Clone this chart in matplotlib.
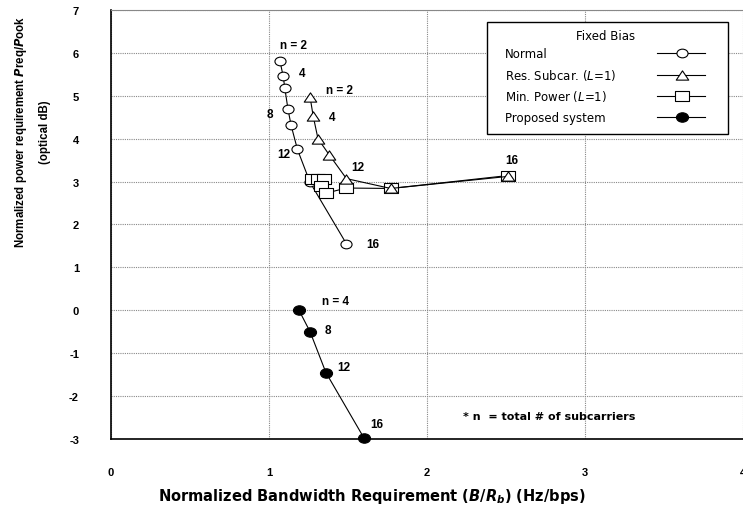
import numpy as np
import matplotlib
matplotlib.use("Agg")
import matplotlib.pyplot as plt
from matplotlib.path import Path
from matplotlib.lines import Line2D
from matplotlib.patches import Rectangle

plt.rcParams['axes.unicode_minus'] = False
plt.rcParams['mathtext.fontset'] = 'custom'
plt.rcParams['mathtext.it'] = 'DejaVu Sans:italic:bold'
plt.rcParams['mathtext.rm'] = 'DejaVu Sans:bold'
plt.rcParams['mathtext.sf'] = 'DejaVu Sans:italic'

# datos
normal_x = [1.07, 1.09, 1.10, 1.12, 1.14, 1.18, 1.26, 1.49]
normal_y = [5.80, 5.45, 5.18, 4.69, 4.31, 3.75, 2.98, 1.55]
normal_lbl = {0: "n = 2", 1: "4", 3: "8", 5: "12", 7: "16"}

resub_x = [1.26, 1.28, 1.31, 1.38, 1.49, 1.77, 2.51]
resub_y = [4.97, 4.52, 4.00, 3.63, 3.07, 2.84, 3.12]
resub_lbl = {0: "n = 2", 1: "4", 4: "12", 6: "16"}

minpow_x = [1.27, 1.31, 1.35, 1.33, 1.36, 1.49, 1.77, 2.51]
minpow_y = [3.07, 3.07, 3.07, 2.90, 2.73, 2.85, 2.84, 3.14]

prop_x = [1.19, 1.26, 1.36, 1.60]
prop_y = [0.0, -0.5, -1.45, -2.97]
prop_lbl = {0: "n = 4", 1: "8", 2: "12", 3: "16"}

x_ticks = [0, 1, 2, 3, 4]
y_ticks = [-3, -2, -1, 0, 1, 2, 3, 4, 5, 6, 7]

# desplazamientos de las etiquetas (puntos)
normal_off = {0: (9.4, 12.2), 1: (13.7, 2.2), 3: (-13, -3.6), 5: (-10, -3.6), 7: (18.7, 0)}
resub_off = {0: (20.9, 5), 1: (13.7, -0.7), 4: (7.9, 8.6), 6: (2.9, 11.5)}
prop_off = {0: (26.6, 6.5), 1: (13, 1.4), 2: (13, 4.3), 3: (9.4, 10)}


def marcador(verts):
    verts = np.asarray(verts, dtype=float)
    codes = [Path.MOVETO] + [Path.LINETO] * (len(verts) - 2) + [Path.CLOSEPOLY]
    return Path(verts, codes)


circ = Path.unit_circle()
elipse = Path(circ.vertices * [1.0, 0.78], circ.codes)
triangulo = marcador([(0, 0.37), (-0.5, -0.37), (0.5, -0.37), (0, 0.37)])
cuadrado = marcador([(-0.5, -0.42), (0.5, -0.42), (0.5, 0.42), (-0.5, 0.42), (-0.5, -0.42)])

estilos = [
    dict(marker=elipse, markersize=8, markerfacecolor='white'),
    dict(marker=triangulo, markersize=9, markerfacecolor='white'),
    dict(marker=cuadrado, markersize=9.4, markerfacecolor='white'),
    dict(marker=elipse, markersize=8.7, markerfacecolor='black'),
]
comun = dict(color='black', lw=0.8, markeredgecolor='black', markeredgewidth=0.8)


def etiquetar(ax, xs, ys, lbls, offs):
    for i, t in lbls.items():
        ax.annotate(t, (xs[i], ys[i]), xytext=offs[i], textcoords='offset points',
                    ha='center', va='center', fontsize=8.5, fontweight='bold',
                    family='Liberation Sans')


def main():
    fig = plt.figure(figsize=(7.43, 5.10), dpi=100)
    ax = fig.add_axes([111 / 743, 70 / 510, 632 / 743, 429 / 510])

    ax.plot(normal_x, normal_y, clip_on=False, zorder=3, **comun, **estilos[0])
    ax.plot(minpow_x, minpow_y, clip_on=False, zorder=3, **comun, **estilos[2])
    ax.plot(resub_x, resub_y, clip_on=False, zorder=4, **comun, **estilos[1])
    ax.plot(prop_x, prop_y, clip_on=False, zorder=3, **comun, **estilos[3])

    etiquetar(ax, normal_x, normal_y, normal_lbl, normal_off)
    etiquetar(ax, resub_x, resub_y, resub_lbl, resub_off)
    etiquetar(ax, prop_x, prop_y, prop_lbl, prop_off)

    ax.set_xlim(0, 4)
    ax.set_ylim(-3, 7)
    ax.set_xticks(x_ticks)
    ax.set_yticks(y_ticks)
    ax.set_xticklabels([str(v) for v in x_ticks])
    ax.set_yticklabels([str(v) for v in y_ticks])
    ax.tick_params(length=0, labelsize=8)
    ax.tick_params(axis='x', pad=20)
    ax.tick_params(axis='y', pad=23)
    for lab in ax.get_xticklabels() + ax.get_yticklabels():
        lab.set_fontweight('bold')
        lab.set_family('Liberation Sans')
    ax.grid(True, color='#888888', lw=0.8, linestyle=(0, (1, 1)))
    ax.spines['right'].set_visible(False)
    ax.spines['top'].set_color('#888888')
    ax.spines['left'].set_linewidth(1.2)
    ax.spines['bottom'].set_linewidth(1.2)

    fig.text(0.5, 1 - 497 / 510, r"Normalized Bandwidth Requirement ($\mathit{B}$/$\mathit{R_b}$) (Hz/bps)",
             ha='center', va='center', fontsize=10.5, fontweight='bold', family='DejaVu Sans')
    fig.text(32 / 743, 1 - 132 / 510, "Normalized power requirement $\\mathit{P}$req/$\\mathit{P}$ook\n(optical dB)",
             ha='center', va='center', rotation=90, fontsize=8.3, fontweight='bold',
             family='Liberation Sans', linespacing=2.1, multialignment='center')

    ax.text((463 - 111) / 632, (440 - 417) / 430, "* n  = total # of subcarriers",
            transform=ax.transAxes, ha='left', va='center', fontsize=8, fontweight='bold',
            family='DejaVu Sans')

    # leyenda dibujada a mano
    ax.add_patch(Rectangle((0.5955, 0.7116), 0.3812, 0.2612, transform=ax.transAxes,
                           facecolor='white', edgecolor='black', lw=1.0, zorder=5))
    ax.text(0.7827, 0.9402, "Fixed Bias", transform=ax.transAxes, ha='center', va='center',
            fontsize=8.5, family='DejaVu Sans', zorder=6)
    nombres = ["Normal", "Res. Subcar. ($\\mathsf{L}$=1)", "Min. Power ($\\mathsf{L}$=1)", "Proposed system"]
    filas = [0.8993, 0.8488, 0.8000, 0.7495]
    for nombre, yy, est in zip(nombres, filas, estilos):
        ax.text(0.6234, yy, nombre, transform=ax.transAxes, ha='left', va='center',
                fontsize=8.5, family='DejaVu Sans', zorder=6)
        ax.add_line(Line2D([0.8634, 0.9403], [yy, yy], transform=ax.transAxes, color='black',
                           lw=0.8, zorder=6))
        ax.add_line(Line2D([0.9029], [yy], transform=ax.transAxes, zorder=7, color='black',
                           markeredgecolor='black', markeredgewidth=0.8, linestyle='none', **est))

    plt.savefig("out.png", dpi=100)
    plt.close()


if __name__ == "__main__":
    main()
